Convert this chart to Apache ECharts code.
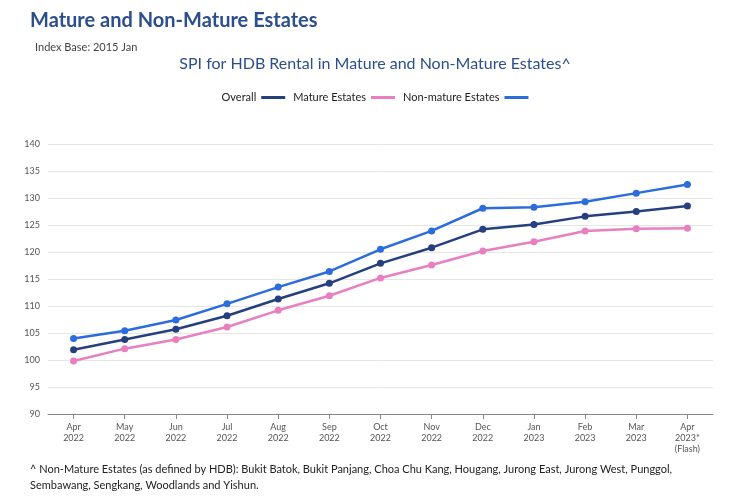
<!DOCTYPE html>
<html>
<head>
<meta charset="utf-8">
<script src="https://cdn.jsdelivr.net/npm/echarts@6/dist/echarts.min.js"></script>
<style>
  html, body { margin: 0; padding: 0; background: #fff; }
  #chart { width: 750px; height: 496px; }
</style>
</head>
<body>
<div id="chart"></div>
<script>
const months = ['Apr\n2022', 'May\n2022', 'Jun\n2022', 'Jul\n2022', 'Aug\n2022', 'Sep\n2022', 'Oct\n2022',
  'Nov\n2022', 'Dec\n2022', 'Jan\n2023', 'Feb\n2023', 'Mar\n2023', 'Apr\n2023*\n(Flash)'];
const overall = [101.9, 103.8, 105.7, 108.2, 111.3, 114.2, 117.9, 120.8, 124.2, 125.1, 126.6, 127.5, 128.5];
const mature = [99.8, 102.1, 103.8, 106.1, 109.2, 111.9, 115.2, 117.6, 120.2, 121.9, 123.9, 124.3, 124.4];
const nonMature = [104.0, 105.4, 107.4, 110.4, 113.5, 116.4, 120.5, 123.9, 128.1, 128.3, 129.3, 130.9, 132.5];

const chart = echarts.init(document.getElementById('chart'));
const font = 'Lato, "Open Sans", sans-serif';
const line = (name, data, color) => ({
  name: name, type: 'line', data: data, symbol: 'circle', symbolSize: 7,
  lineStyle: { width: 2.5, color: color }, itemStyle: { color: color }
});

chart.setOption({
  textStyle: { fontFamily: font },
  title: [
    { text: 'Mature and Non-Mature Estates', left: 25, top: 6,
      textStyle: { fontSize: 20, fontWeight: 'bold', color: '#2b4e8e', fontFamily: font } },
    { text: 'Index Base: 2015 Jan', left: 30, top: 37,
      textStyle: { fontSize: 11, fontWeight: 'normal', color: '#444', fontFamily: font } },
    { text: 'SPI for HDB Rental in Mature and Non-Mature Estates^', left: 'center', top: 51,
      textStyle: { fontSize: 16, fontWeight: 'normal', color: '#2b4e8e', fontFamily: font } },
    { text: '^ Non-Mature Estates (as defined by HDB): Bukit Batok, Bukit Panjang, Choa Chu Kang, Hougang, Jurong East, Jurong West, Punggol,\nSembawang, Sengkang, Woodlands and Yishun.',
      left: 25, top: 456,
      textStyle: { fontSize: 11, fontWeight: 'normal', color: '#222', lineHeight: 16, fontFamily: font } }
  ],
  legend: {
    top: 87, left: 'center', align: 'right', itemWidth: 24, itemHeight: 3, itemGap: 8,
    icon: 'rect', textStyle: { fontSize: 11, color: '#222' },
    data: ['Overall', 'Mature Estates', 'Non-mature Estates']
  },
  grid: { left: 48, right: 37, top: 144, bottom: 82 },
  xAxis: {
    type: 'category', data: months, boundaryGap: true,
    axisLine: { lineStyle: { color: '#888' } },
    axisTick: { show: true, alignWithLabel: true, lineStyle: { color: '#888' } },
    axisLabel: { fontSize: 9, color: '#555', lineHeight: 11, interval: 0 }
  },
  yAxis: {
    type: 'value', min: 90, max: 140, interval: 5,
    axisLine: { show: false }, axisTick: { show: false },
    axisLabel: { fontSize: 9, color: '#555' },
    splitLine: { lineStyle: { color: '#e6e6e6' } }
  },
  series: [
    line('Overall', overall, '#263f7e'),
    line('Mature Estates', mature, '#e87fc0'),
    line('Non-mature Estates', nonMature, '#2c6cdc')
  ]
});
</script>
</body>
</html>
